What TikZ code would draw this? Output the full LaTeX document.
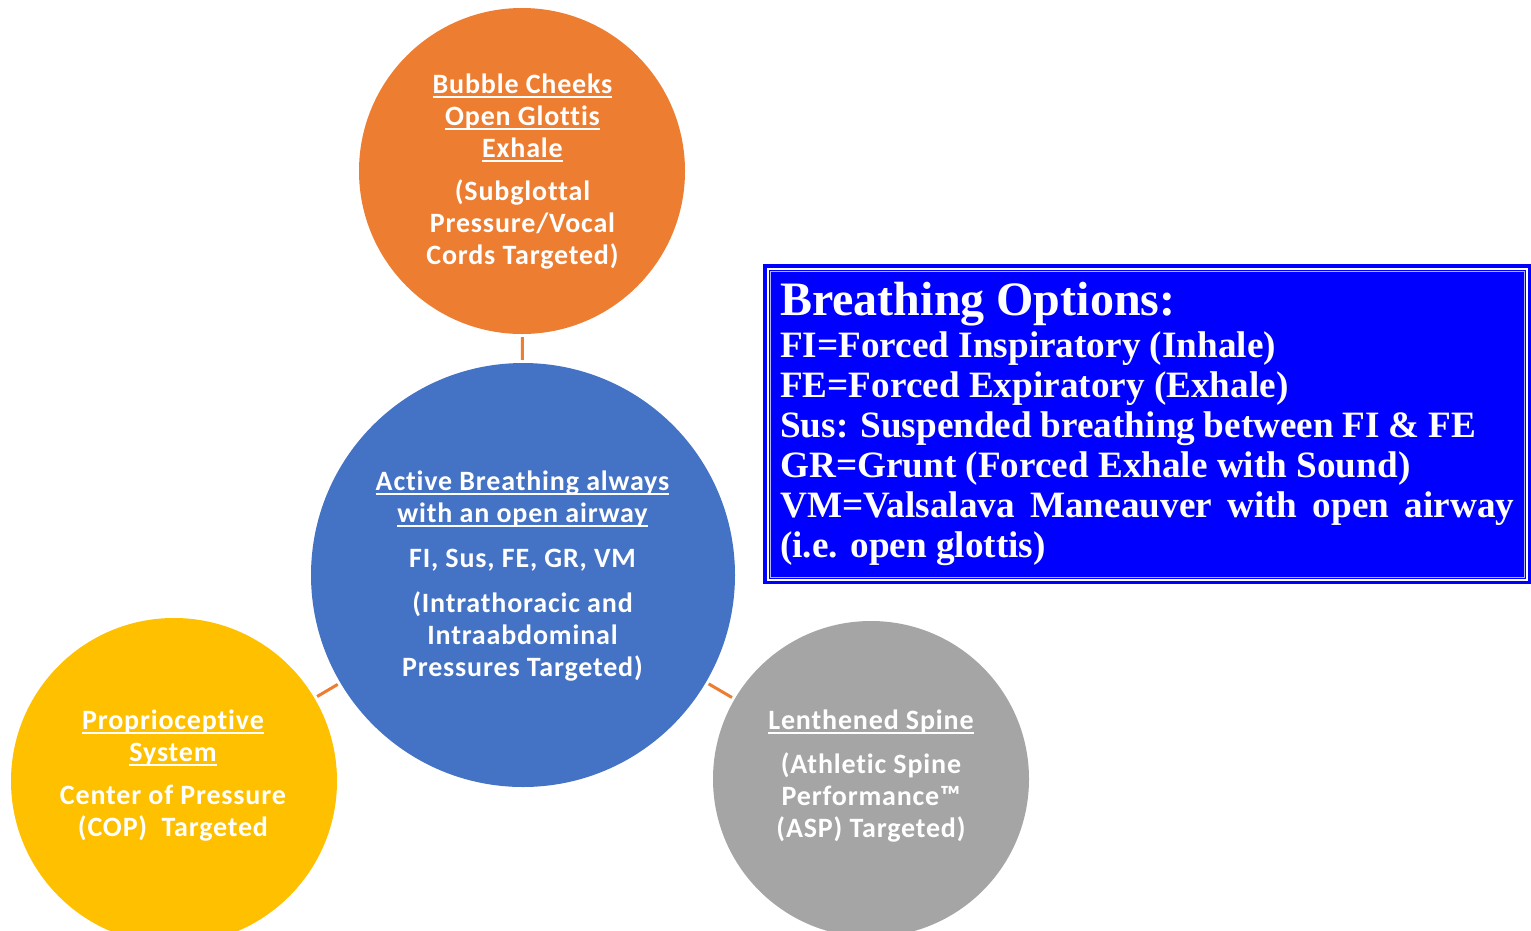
\documentclass[tikz,border=0pt]{standalone}
\usepackage{fontspec}
\newfontfamily\cf[LetterSpace=3,Ligatures=NoCommon]{Carlito}
\newfontfamily\tf{Liberation Serif}
\definecolor{corange}{HTML}{ED7D31}
\definecolor{cblue}{HTML}{4472C4}
\definecolor{cyellow}{HTML}{FFC000}
\definecolor{cgray}{HTML}{A5A5A5}
\definecolor{pureblue}{HTML}{0000FF}
\newcommand\ulx[1]{\setbox0\hbox{#1}\rlap{\rule[-4.5pt]{\wd0}{2pt}}\box0}
\begin{document}
\begin{tikzpicture}[x=1pt,y=-1pt]
\tikzset{
 circ/.style={circle,inner sep=0pt,draw=none},
 ctext/.style={text=white,align=center,font=\cf\bfseries\fontsize{28}{32}\selectfont,inner sep=0pt},
 btext/.style={text=white,anchor=base west,font=\tf\bfseries\fontsize{37.2}{40}\selectfont,inner sep=0pt},
 link/.style={draw=corange,line width=3pt,shorten <=3pt,shorten >=3pt}
}
\useasboundingbox (0,0) rectangle (1531,930);
\clip (0,0) rectangle (1531,930);
\fill[white] (0,0) rectangle (1531,930);
% circles
\node[circ,fill=corange,minimum size=326pt] (orange) at (522,171) {};
\node[circ,fill=cblue,minimum size=424pt] (blue) at (523,575) {};
\node[circ,fill=cyellow,minimum size=326pt] (yellow) at (174,781) {};
\node[circ,fill=cgray,minimum size=316pt] (gray) at (871,779) {};
% connectors
\draw[link] (blue) -- (orange);
\draw[link] (blue) -- (yellow);
\draw[link] (blue) -- (gray);
% circle texts
\node[ctext] (otext) at (522.5,172) {\ulx{Bubble Cheeks}\\ \ulx{Open Glottis}\\ \ulx{Exhale}\\[11pt] (Subglottal\\ Pressure/Vocal\\ Cords Targeted)};
\node[ctext] (btxt) at (522.5,576) {\ulx{Active Breathing always}\\ \ulx{with an open airway}\\[13pt] FI, Sus, FE, GR, VM\\[13pt] (Intrathoracic and\\ Intraabdominal\\ Pressures Targeted)};
\node[ctext] (ytext) at (173,776) {\ulx{Proprioceptive}\\ \ulx{System}\\[11pt] Center of Pressure\\ (COP)~ Targeted};
\node[ctext] (gtext) at (871,776) {\ulx{Lenthened Spine}\\[12pt] (Athletic Spine\\ Performance™\\ (ASP) Targeted)};
% box
\node[rectangle,fill=pureblue,minimum width=768pt,minimum height=320pt,anchor=north west,inner sep=0pt] (box) at (763,264) {};
\draw[white,line width=2pt] ([shift={(4.5pt,-4.5pt)}]box.north west) rectangle ([shift={(-4.5pt,4.5pt)}]box.south east);
\draw[white!70!pureblue,line width=1pt] ([shift={(7pt,-7pt)}]box.north west) rectangle ([shift={(-7pt,7pt)}]box.south east);
\node[btext,font=\tf\bfseries\fontsize{48}{50}\selectfont] (title) at (780,315) {Breathing Options:};
\node[btext] (l1) at (780,357) {FI=Forced Inspiratory (Inhale)};
\node[btext] (l2) at (780,397) {FE=Forced Expiratory (Exhale)};
\node[btext] (l3) at (780,437) {\makebox[696pt][s]{Sus: Suspended breathing between FI \& FE}};
\node[btext] (l4) at (780,477) {GR=Grunt (Forced Exhale with Sound)};
\node[btext] (l5) at (780,517) {\makebox[734pt][s]{VM=Valsalava Maneauver with open airway}};
\node[btext] (l6) at (780,557) {(i.e. open glottis)};
\end{tikzpicture}
\end{document}
